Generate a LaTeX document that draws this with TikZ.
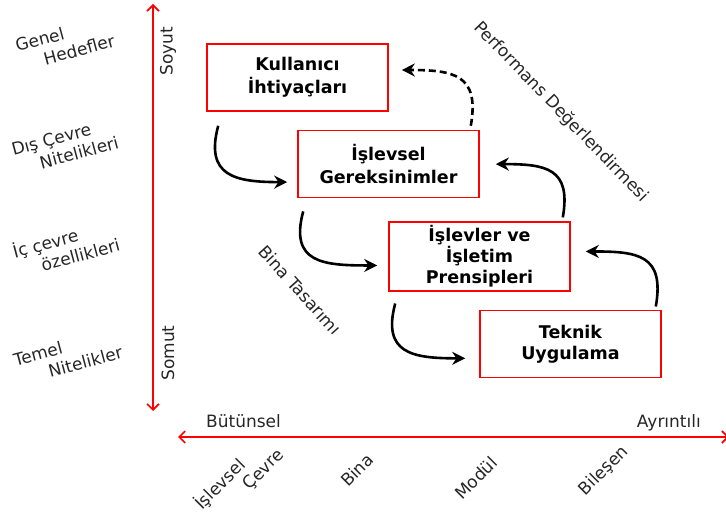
\documentclass[tikz,border=0pt]{standalone}
\usepackage{fontspec}
\setmainfont{DejaVu Sans}
\usetikzlibrary{positioning, arrows.meta}

\begin{document}
\begin{tikzpicture}[x=1pt, y=1pt,
    box/.style={draw=red, line width=1.6pt, minimum width=181pt, minimum height=67pt, align=center, font=\bfseries\fontsize{17.5}{23}\selectfont, node distance=18pt},
    lbl/.style={font=\fontsize{17}{20}\selectfont, text=black!85, inner sep=0pt},
    side/.style={lbl, align=left, rotate=15},
    flow/.style={line width=2.6pt, -{Stealth[length=13pt, width=13pt]}},
    axis/.style={red, line width=1.6pt, {Straight Barb[length=6pt, width=12pt]}-{Straight Barb[length=6pt, width=12pt]}}]
    \useasboundingbox (0,0) rectangle (726,-513);

    \node[box] (kullanici) at (297.5,-77.5) {Kullanıcı\\İhtiyaçları};
    \node[box] (gereksinim) [below=of kullanici, xshift=91pt] {İşlevsel\\Gereksinimler};
    \node[box, font=\bfseries\fontsize{17.5}{21}\selectfont] (prensip) [below=23pt of gereksinim, xshift=91pt] {İşlevler ve\\İşletim\\Prensipleri};
    \node[box, font=\bfseries\fontsize{17.5}{21}\selectfont] (teknik) [below=of prensip, xshift=91pt] {Teknik\\Uygulama};

    % axes
    \coordinate (soyut) at (153,-4);
    \coordinate (somut) at (153,-411);
    \coordinate (butun) at (178,-437);
    \coordinate (ayrinti) at (729,-437);
    \draw[axis] (somut) -- (soyut);
    \draw[axis] (butun) -- (ayrinti);

    \node[lbl, rotate=90] (soyutlbl) at (168,-51) {Soyut};
    \node[lbl, rotate=90] (somutlbl) at (168,-353) {Somut};
    \node[lbl, anchor=base west] (butunlbl) at (206,-427) {Bütünsel};
    \node[lbl, anchor=base east] (ayrintilbl) at (701,-427) {Ayrıntılı};

    \node[side] (hedef) at (65,-43) {Genel\\\hspace*{1.4em}Hedefler};
    \node[side] (discevre) at (65,-146) {Dış Çevre\\\hspace*{1.4em}Nitelikleri};
    \node[side] (iccevre) at (66,-247) {İç çevre\\\hspace*{1.4em}özellikleri};
    \node[side] (temel) at (68,-356) {Temel\\\hspace*{1.8em}Nitelikler};

    \node[lbl, rotate=45] (islevsel) at (220,-484) {İşlevsel};
    \node[lbl, rotate=45] (cevre) at (264,-470) {Çevre};
    \node[lbl, rotate=45] (bina) at (357,-470) {Bina};
    \node[lbl, rotate=45] (modul) at (476,-478) {Modül};
    \node[lbl, rotate=45] (bilesen) at (604,-471) {Bileşen};

    \node[lbl, rotate=-46] (performans) at (561,-112) {Performans Değerlendirmesi};
    \node[lbl, rotate=-48] (tasarim) at (300,-290) {Bina Tasarımı};

    % design steps
    \draw[flow] ([shift={(12,-14)}]kullanici.south west) to[out=255, in=180, looseness=1.5] ([shift={(-10,-18)}]gereksinim.west);
    \draw[flow] ([shift={(6,-13)}]gereksinim.south west) to[out=255, in=180, looseness=1.5] ([shift={(-11,-9)}]prensip.west);
    \draw[flow] ([shift={(7,-12)}]prensip.south west) to[out=255, in=180, looseness=1.5] ([shift={(-14,-14.5)}]teknik.west);
    % evaluation
    \draw[flow] ([shift={(-6,3)}]teknik.north east) to[out=80, in=0, looseness=1.5] ([shift={(15,5)}]prensip.east);
    \draw[flow] ([shift={(-8,4)}]prensip.north east) to[out=80, in=0, looseness=1.5] ([shift={(16,0)}]gereksinim.east);
    \draw[flow, dash pattern=on 7pt off 4pt] ([shift={(-9,4)}]gereksinim.north east) to[out=80, in=0, looseness=1.5] ([shift={(13,7.5)}]kullanici.east);
\end{tikzpicture}
\end{document}
